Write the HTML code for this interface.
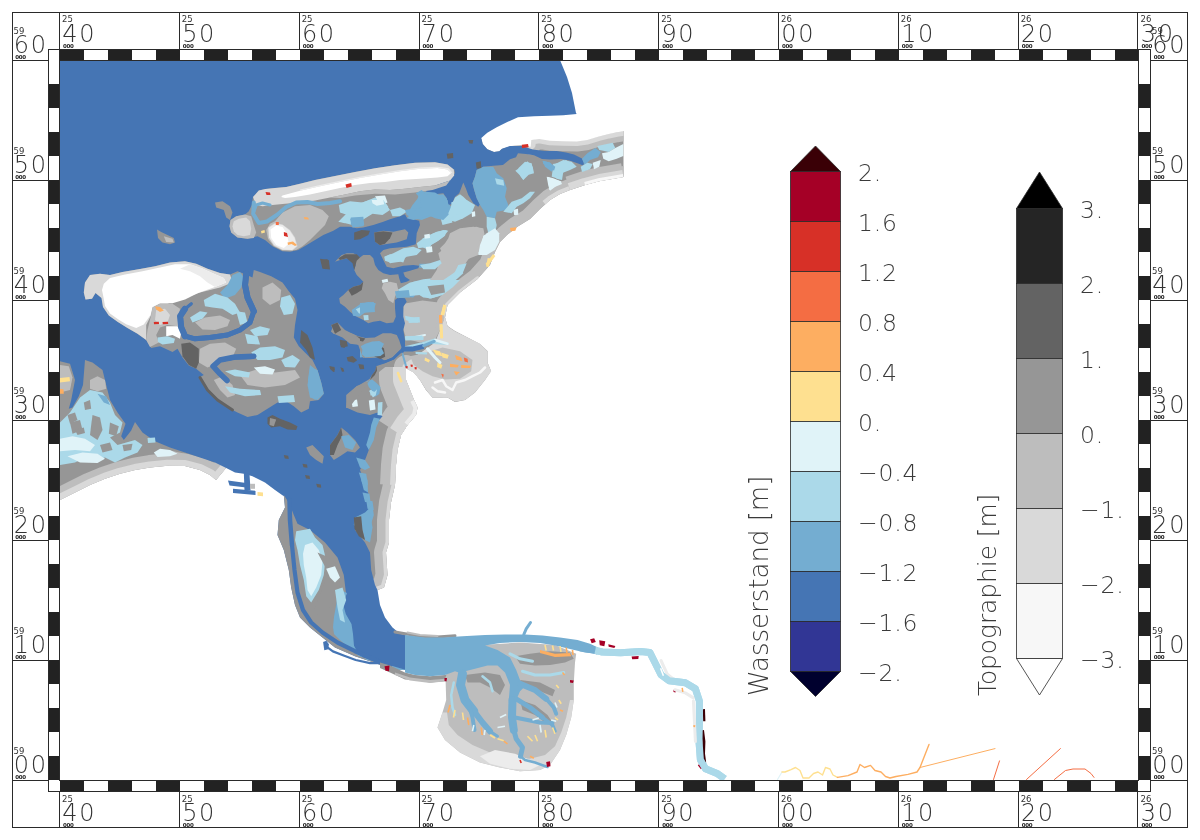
<!DOCTYPE html>
<html lang="de"><head><meta charset="utf-8"><title>Wasserstand / Topographie</title>
<style>
html,body{margin:0;padding:0;background:#fff;}
body{width:1200px;height:840px;overflow:hidden;}
svg{display:block;}
text{font-family:"DejaVu Sans Light","DejaVu Sans","Liberation Sans",sans-serif;font-weight:200;fill:#2a2a2a;}
.bg{font-size:24px;letter-spacing:1.6px;fill:#333;}
.sm{font-family:"DejaVu Sans","Liberation Sans",sans-serif;font-size:8.5px;font-weight:400;fill:#333;}
.ty{font-family:"DejaVu Sans","Liberation Sans",sans-serif;font-size:5.5px;font-weight:700;fill:#222;letter-spacing:-0.3px;}
.cb{font-size:23.5px;fill:#3a3a3a;letter-spacing:0.8px;}
.ttl{font-size:26px;fill:#3a3a3a;}
</style></head>
<body>
<svg width="1200" height="840" viewBox="0 0 1200 840">
<rect width="1200" height="840" fill="#fff"/>
<g id="frame" shape-rendering="crispEdges">
<rect x="12.5" y="12.5" width="1175" height="815" fill="#fff" stroke="#2a2a2a" stroke-width="1"/>
<rect x="48.5" y="49.5" width="1102.00" height="742" fill="#fff" stroke="#2a2a2a" stroke-width="1"/>
<rect x="59.5" y="49" width="24" height="11" fill="#222222"/>
<rect x="59.5" y="780" width="24" height="12" fill="#222222"/>
<rect x="107.5" y="49" width="24" height="11" fill="#222222"/>
<rect x="107.5" y="780" width="24" height="12" fill="#222222"/>
<rect x="155.5" y="49" width="24" height="11" fill="#222222"/>
<rect x="155.5" y="780" width="24" height="12" fill="#222222"/>
<rect x="203.5" y="49" width="24" height="11" fill="#222222"/>
<rect x="203.5" y="780" width="24" height="12" fill="#222222"/>
<rect x="251.5" y="49" width="24" height="11" fill="#222222"/>
<rect x="251.5" y="780" width="24" height="12" fill="#222222"/>
<rect x="299.5" y="49" width="24" height="11" fill="#222222"/>
<rect x="299.5" y="780" width="24" height="12" fill="#222222"/>
<rect x="347.5" y="49" width="24" height="11" fill="#222222"/>
<rect x="347.5" y="780" width="24" height="12" fill="#222222"/>
<rect x="395.5" y="49" width="24" height="11" fill="#222222"/>
<rect x="395.5" y="780" width="24" height="12" fill="#222222"/>
<rect x="442.5" y="49" width="24" height="11" fill="#222222"/>
<rect x="442.5" y="780" width="24" height="12" fill="#222222"/>
<rect x="490.5" y="49" width="24" height="11" fill="#222222"/>
<rect x="490.5" y="780" width="24" height="12" fill="#222222"/>
<rect x="538.5" y="49" width="24" height="11" fill="#222222"/>
<rect x="538.5" y="780" width="24" height="12" fill="#222222"/>
<rect x="586.5" y="49" width="24" height="11" fill="#222222"/>
<rect x="586.5" y="780" width="24" height="12" fill="#222222"/>
<rect x="634.5" y="49" width="24" height="11" fill="#222222"/>
<rect x="634.5" y="780" width="24" height="12" fill="#222222"/>
<rect x="682.5" y="49" width="24" height="11" fill="#222222"/>
<rect x="682.5" y="780" width="24" height="12" fill="#222222"/>
<rect x="730.5" y="49" width="24" height="11" fill="#222222"/>
<rect x="730.5" y="780" width="24" height="12" fill="#222222"/>
<rect x="778.5" y="49" width="24" height="11" fill="#222222"/>
<rect x="778.5" y="780" width="24" height="12" fill="#222222"/>
<rect x="826.5" y="49" width="24" height="11" fill="#222222"/>
<rect x="826.5" y="780" width="24" height="12" fill="#222222"/>
<rect x="874.5" y="49" width="24" height="11" fill="#222222"/>
<rect x="874.5" y="780" width="24" height="12" fill="#222222"/>
<rect x="922.5" y="49" width="24" height="11" fill="#222222"/>
<rect x="922.5" y="780" width="24" height="12" fill="#222222"/>
<rect x="970.5" y="49" width="24" height="11" fill="#222222"/>
<rect x="970.5" y="780" width="24" height="12" fill="#222222"/>
<rect x="1018.5" y="49" width="24" height="11" fill="#222222"/>
<rect x="1018.5" y="780" width="24" height="12" fill="#222222"/>
<rect x="1066.5" y="49" width="24" height="11" fill="#222222"/>
<rect x="1066.5" y="780" width="24" height="12" fill="#222222"/>
<rect x="1114.5" y="49" width="23" height="11" fill="#222222"/>
<rect x="1114.5" y="780" width="23" height="12" fill="#222222"/>
<rect x="48" y="84" width="12" height="24" fill="#222222"/>
<rect x="1138.50" y="84" width="12" height="24" fill="#222222"/>
<rect x="48" y="132" width="12" height="24" fill="#222222"/>
<rect x="1138.50" y="132" width="12" height="24" fill="#222222"/>
<rect x="48" y="180" width="12" height="24" fill="#222222"/>
<rect x="1138.50" y="180" width="12" height="24" fill="#222222"/>
<rect x="48" y="228" width="12" height="24" fill="#222222"/>
<rect x="1138.50" y="228" width="12" height="24" fill="#222222"/>
<rect x="48" y="276" width="12" height="24" fill="#222222"/>
<rect x="1138.50" y="276" width="12" height="24" fill="#222222"/>
<rect x="48" y="324" width="12" height="24" fill="#222222"/>
<rect x="1138.50" y="324" width="12" height="24" fill="#222222"/>
<rect x="48" y="372" width="12" height="24" fill="#222222"/>
<rect x="1138.50" y="372" width="12" height="24" fill="#222222"/>
<rect x="48" y="420" width="12" height="24" fill="#222222"/>
<rect x="1138.50" y="420" width="12" height="24" fill="#222222"/>
<rect x="48" y="468" width="12" height="24" fill="#222222"/>
<rect x="1138.50" y="468" width="12" height="24" fill="#222222"/>
<rect x="48" y="516" width="12" height="24" fill="#222222"/>
<rect x="1138.50" y="516" width="12" height="24" fill="#222222"/>
<rect x="48" y="564" width="12" height="24" fill="#222222"/>
<rect x="1138.50" y="564" width="12" height="24" fill="#222222"/>
<rect x="48" y="612" width="12" height="24" fill="#222222"/>
<rect x="1138.50" y="612" width="12" height="24" fill="#222222"/>
<rect x="48" y="660" width="12" height="24" fill="#222222"/>
<rect x="1138.50" y="660" width="12" height="24" fill="#222222"/>
<rect x="48" y="708" width="12" height="24" fill="#222222"/>
<rect x="1138.50" y="708" width="12" height="24" fill="#222222"/>
<rect x="48" y="756" width="12" height="24" fill="#222222"/>
<rect x="1138.50" y="756" width="12" height="24" fill="#222222"/>
<path d="M59.5 49.5V780.5M1138.50 49.5V780.5M1150.50 49.5V791.5M48.5 49.5V791.5M59.5 60.5H1138.50M59.5 780.5H1138.50M48.5 791.5H1150.50M48.5 49.5H1150.50" stroke="#2a2a2a" stroke-width="1" fill="none"/>
<rect x="60" y="61" width="1078.00" height="719" fill="#fff"/>
<path d="M59.5 12.5V49.5M59.5 791.5V827.5M179.5 12.5V49.5M179.5 791.5V827.5M299.5 12.5V49.5M299.5 791.5V827.5M419.5 12.5V49.5M419.5 791.5V827.5M538.5 12.5V49.5M538.5 791.5V827.5M658.5 12.5V49.5M658.5 791.5V827.5M778.5 12.5V49.5M778.5 791.5V827.5M898.5 12.5V49.5M898.5 791.5V827.5M1018.5 12.5V49.5M1018.5 791.5V827.5M1137.5 12.5V49.5M1137.5 791.5V827.5M12.5 60.5H48.5M1150.50 60.5H1187.5M12.5 180.5H48.5M1150.50 180.5H1187.5M12.5 300.5H48.5M1150.50 300.5H1187.5M12.5 420.5H48.5M1150.50 420.5H1187.5M12.5 540.5H48.5M1150.50 540.5H1187.5M12.5 660.5H48.5M1150.50 660.5H1187.5M12.5 780.5H48.5M1150.50 780.5H1187.5" stroke="#2a2a2a" stroke-width="1" fill="none"/>
</g>
<g id="map" clip-path="url(#mc)">
<clipPath id="mc"><rect x="60" y="61" width="1079" height="719"/></clipPath>
<defs><clipPath id="c0"><polygon points="222,190 300,150 455,120 497,150 531,140 540,138 562,141 585,140 600,136 612,133 623.5,131 623.5,177 612,179 600,181 585,185 570,190 560,194 550,200 540,209 530,219 517,227 507,235 500,242 495,252 490,265 477.5,279 460,292.5 447.5,305 445,317.5 447.5,326 455,331 467.5,337.5 480,344 487.5,351 487.5,362.5 491,371 485,380 475,392.5 465,400 455,402 447.5,397.5 432.5,397.5 426,390 420,380 414,372.5 407.5,369 406,367 406,380 410,390 414,400 417.5,407.5 416,415 407.5,425 401,435 397.5,450 396,465 395,485 391,502.5 389,520 389,542.5 386,552.5 387.5,575 384,587.5 377.5,590 340,590 300,400 230,260"/></clipPath><clipPath id="c1"><polygon points="60,340 100,340 240,400 226,468 216,480 210,475 200,470 185,466 167.5,465.8 150,467.5 135,470 120,473.8 105,478.8 90,485 75,492.5 60,500"/></clipPath></defs>
<polygon points="222,190 300,150 455,120 497,150 531,140 540,138 562,141 585,140 600,136 612,133 623.5,131 623.5,177 612,179 600,181 585,185 570,190 560,194 550,200 540,209 530,219 517,227 507,235 500,242 495,252 490,265 477.5,279 460,292.5 447.5,305 445,317.5 447.5,326 455,331 467.5,337.5 480,344 487.5,351 487.5,362.5 491,371 485,380 475,392.5 465,400 455,402 447.5,397.5 432.5,397.5 426,390 420,380 414,372.5 407.5,369 406,367 406,380 410,390 414,400 417.5,407.5 416,415 407.5,425 401,435 397.5,450 396,465 395,485 391,502.5 389,520 389,542.5 386,552.5 387.5,575 384,587.5 377.5,590 340,590 300,400 230,260" fill="#969696"/>
<polygon points="60,340 100,340 240,400 226,468 216,480 210,475 200,470 185,466 167.5,465.8 150,467.5 135,470 120,473.8 105,478.8 90,485 75,492.5 60,500" fill="#969696"/>
<polyline points="406,367 406,380 410,390 414,400 417.5,407.5 416,415 407.5,425 401,435 397.5,450 396,465 395,485 391,502.5 389,520 389,542.5 386,552.5 387.5,575 384,587.5 377.5,590" fill="none" stroke="#bdbdbd" stroke-width="24" stroke-linecap="round" stroke-linejoin="round" clip-path="url(#c0)"/>
<polyline points="407.5,425 401,435 397.5,450 396,465 395,485" fill="none" stroke="#bdbdbd" stroke-width="30" stroke-linecap="butt" stroke-linejoin="round" clip-path="url(#c0)"/>
<polyline points="406,367 406,380 410,390 414,400 417.5,407.5 416,415 407.5,425 401,435" fill="none" stroke="#bdbdbd" stroke-width="54" stroke-linecap="butt" stroke-linejoin="round" clip-path="url(#c0)"/>
<polyline points="406,367 406,380 410,390 414,400 417.5,407.5 416,415 407.5,425 401,435 397.5,450 396,465 395,485 391,502.5 389,520 389,542.5 386,552.5 387.5,575 384,587.5 377.5,590" fill="none" stroke="#d9d9d9" stroke-width="7" stroke-linecap="round" stroke-linejoin="round" clip-path="url(#c0)"/>
<polyline points="407.5,425 401,435 397.5,450 396,465 395,485" fill="none" stroke="#d9d9d9" stroke-width="10" stroke-linecap="butt" stroke-linejoin="round" clip-path="url(#c0)"/>
<polyline points="406,367 406,380 410,390 414,400 417.5,407.5 416,415 407.5,425 401,435" fill="none" stroke="#d9d9d9" stroke-width="26" stroke-linecap="butt" stroke-linejoin="round" clip-path="url(#c0)"/>
<polyline points="414,400 417.5,407.5 416,415 407.5,425" fill="none" stroke="#ececec" stroke-width="8" stroke-linecap="butt" stroke-linejoin="round" clip-path="url(#c0)"/>
<polyline points="623.5,177 612,179 600,181 585,185 570,190 560,194 550,200 540,209 530,219 517,227 507,235 500,242 495,252 490,265 477.5,279 460,292.5 447.5,305 445,317.5" fill="none" stroke="#bdbdbd" stroke-width="22" stroke-linecap="round" stroke-linejoin="round" clip-path="url(#c0)"/>
<polyline points="623.5,177 612,179 600,181 585,185 570,190" fill="none" stroke="#bdbdbd" stroke-width="28" stroke-linecap="butt" stroke-linejoin="round" clip-path="url(#c0)"/>
<polyline points="623.5,177 612,179 600,181 585,185 570,190" fill="none" stroke="#d9d9d9" stroke-width="14" stroke-linecap="butt" stroke-linejoin="round" clip-path="url(#c0)"/>
<polyline points="570,190 560,194 550,200 545,204" fill="none" stroke="#d9d9d9" stroke-width="8" stroke-linecap="butt" stroke-linejoin="round" clip-path="url(#c0)"/>
<polyline points="623.5,177 612,179 600,181 585,185" fill="none" stroke="#f7f7f7" stroke-width="6" stroke-linecap="butt" stroke-linejoin="round" clip-path="url(#c0)"/>
<polyline points="477.5,279 460,292.5 447.5,305 445,317.5" fill="none" stroke="#d9d9d9" stroke-width="5" stroke-linecap="round" stroke-linejoin="round" clip-path="url(#c0)"/>
<polygon points="445,317.5 447.5,326.2 455,331.2 467.5,337.5 480,343.8 487.5,351.2 487.5,362.5 491.2,371.2 485,380 475,392.5 465,400 455,401.8 447.5,397.5 432.5,397.5 426.2,390 420,380 413.8,372.5 407.5,368.8 406.2,362.5 417.5,355 435,342.5" fill="#d9d9d9"/>
<polygon points="410,356.2 425,353 442.5,347.5 460,351.2 472.5,360 471.2,371.2 460,378.8 445,379.5 432.5,376.2 422.5,371.2 413.8,365" fill="#bdbdbd"/>
<polyline points="435,382.5 442.5,380 446.2,386.2 452.5,390 456.2,382.5 465,380 472.5,376.2 480,372.5 485,367.5" fill="none" stroke="#f7f7f7" stroke-width="2.5" stroke-linecap="round" stroke-linejoin="round"/>
<polyline points="432.5,387.5 437.5,391.2 445,392.5" fill="none" stroke="#f7f7f7" stroke-width="2.5" stroke-linecap="round" stroke-linejoin="round"/>
<polygon points="403.8,303.8 422.5,300.5 442.5,303 444.5,317.5 440,330 435,340 420,342.5 406.2,338.8 402,325" fill="#bdbdbd"/>
<polyline points="531.1,144.7 531.3,140 539.3,138.9 550,140.7 563.3,141.3 576.7,141.6 587.3,140 598,136.7 608.7,134 616.7,132.3 623.3,131.3" fill="none" stroke="#bdbdbd" stroke-width="20" stroke-linecap="round" stroke-linejoin="round" clip-path="url(#c0)"/>
<polyline points="531.1,144.7 531.3,140 539.3,138.9 550,140.7 563.3,141.3 576.7,141.6 587.3,140 598,136.7 608.7,134 616.7,132.3 623.3,131.3" fill="none" stroke="#d9d9d9" stroke-width="9" stroke-linecap="round" stroke-linejoin="round" clip-path="url(#c0)"/>
<polygon points="167.5,450 185,453.8 200,458 215,463 226.2,468 216.2,480 210,475 200,470 185,466.2 167.5,465.8 160,460" fill="#bdbdbd" clip-path="url(#c1)"/>
<polyline points="226,468 216,480 210,475 200,470 185,466 167.5,465.8 150,467.5 135,470 120,473.8 105,478.8 90,485 75,492.5 60,500" fill="none" stroke="#bdbdbd" stroke-width="25" stroke-linecap="round" stroke-linejoin="round" clip-path="url(#c1)"/>
<polyline points="226,468 216,480 210,475 200,470 185,466 167.5,465.8 150,467.5 135,470 120,473.8 105,478.8 90,485 75,492.5 60,500" fill="none" stroke="#d9d9d9" stroke-width="12" stroke-linecap="round" stroke-linejoin="round" clip-path="url(#c1)"/>
<polygon points="576.7,114 563.3,115.3 550,115.7 534,116.3 518,117.3 507.3,122 496.7,127.3 487.3,132.7 481.3,138 482.7,144 487.3,149.3 494,152 499.3,151.3 502,148.7 510,146 522,145.3 530.7,146.7 531.3,140 539.3,138.9 550,140.7 563.3,141.3 576.7,141.6 587.3,140 598,136.7 608.7,134 616.7,132.3 623.3,131.3 623.3,113.3 576.7,113.3" fill="#ffffff"/>
<polygon points="60,60 560,60 567,77 572,93 576,113 576.7,114 563.3,115.3 550,115.7 534,116.3 518,117.3 507.3,122 496.7,127.3 487.3,132.7 481.3,138 482.7,144 487.3,149.3 494,152 499.3,151.3 502,148.7 510,146 522,146 532.7,149.6 544.7,151.1 556.7,151.1 566,152.4 574,154.4 582,158.4 584,162.7 583.3,165.6 576.7,162.9 568.7,160.3 560.7,158.9 550,159.6 542,158.9 534,155.3 526,154 518,153.3 516,157.3 510,159.3 502.9,164.9 493.3,165.8 483.3,166.7 476.7,170 475,176.7 472.5,183.3 474.2,190 476.7,198.3 480,204.2 478.3,206.7 473.3,203.3 468.3,195 465.8,188.3 463.3,182.5 461.7,186.7 459.2,193.3 455,196.7 451.7,204.2 448.3,205 446.7,198.3 443.3,193.3 435,194.2 425.8,193.3 426.7,190 436.7,185 443.3,181.7 450,177.5 455,173.3 454.2,169.2 453.8,169.5 447.5,164.5 435,162.2 415,162.8 395,165.2 375,168.2 355,172 335,176 315,180 300,183.8 286.2,187 275,188 265.5,189 258.8,190.5 253,197 251.8,205 248.8,211.2 245,214.5 236.2,216.2 230.5,220 229.5,226.2 231.2,232.5 237.5,237.5 247.5,238.8 257.5,236.2 265,240 272.5,246.2 282.5,251.2 290,251.8 298.3,250 306.7,245 315,240 323.3,235 333.3,230.8 340,226.7 350,226.7 356.7,228.3 363.3,227.5 373.3,225 383.3,221.7 390,219.2 398.3,216.7 405,214.2 406.7,217.5 413.3,219.2 419.2,220.8 420,225 416.7,233.3 415.8,244.2 406.7,246.7 398.3,247.5 390,248.3 383.3,250 380,253.3 383.3,260 386.7,266.7 393.3,268.3 403.3,265.8 413.3,265 419.2,265.8 418.3,268.3 410,270.8 403.3,272.5 405,276.7 410,280 406.7,281.7 400.8,283.3 399.2,278.3 398.3,274.2 390,275 383.3,273.3 378.3,270 375,265 373.3,258.3 370,255 363.3,255 360,257.5 356.7,255 353.3,253.3 346.7,253.3 341.7,255 338.3,258.3 335,261.7 340,260 346.7,258.3 353.3,260 355.8,265 354.2,270 356.7,275 360,278.3 363.3,281.7 360,285 353.3,286.7 348.3,290 343.3,295 339.2,298.3 340,303.3 345,306.7 350,311.7 356.7,316.7 363.3,320 368.3,323.3 373.3,321.7 380,320.8 386.7,323.3 393.3,322.5 395.8,316.7 395,308.3 395,300 398.3,297.5 405,298.3 406.7,301.7 403.3,306.7 403.3,316.7 405,323.3 403.3,330 405,340 405,350 402.5,353.8 390,362.5 380,370 370,378.8 355,387.5 346.2,395 346.2,407.5 357.5,412.5 370,415 377.5,412.5 382.5,416.2 375,425 372.5,440 368.8,450 365,460 360,470 365,482.5 368.8,495 370,507.5 365,517.5 357.5,520 355,530 365,542.5 370,552.5 371.2,570 375,585 377.5,590 380,605 385,617.5 392.5,627.5 400,633.8 406.2,635 406.2,670 390,670 377.5,663.8 355,656.2 335,647.5 322.5,637.5 310,627.5 300,617.5 295,605 291.2,587.5 288.8,570 283.8,550 277.5,535 278.8,520 285,507.5 283.8,495 283.8,496.2 275,490 265,482.5 252.5,476.2 243.8,473.8 235,472.5 226.2,468 215,462.5 200,457.5 185,452.5 170,447.5 155,441.2 142.5,432.5 135,422 131.2,430.5 123.8,440 121.2,436.2 125.5,423.8 117.5,412.5 110,400 106.2,385 102.5,370 92.5,362.5 85,360 83,385 78.8,396.2 72.5,407.5 68.8,408.8 71.2,400 75,380 70,363.8 60,361.2" fill="#4575b4"/>
<polygon points="83.8,292.5 85,282.5 90,275 100,273.8 110,275 122.5,272 140,269 155,266.2 170,262.5 185,261.2 196.2,263.8 207.5,268.8 220,273 230,274.5 237.5,271.2 243.8,273.8 252.5,277.5 253.8,270 260,272 271.2,276.2 282.5,282.5 288.8,291.2 295,298.8 297.5,310 295,325 293.8,337.5 298.8,346.2 306.2,353.8 312.5,360 317.5,370 321.2,382.5 323.8,393.8 318.8,400 310,401.2 308.8,408.8 301.2,412.5 293.8,406.2 286.2,401.2 277.5,402.5 267.5,408.8 257.5,415 247.5,417 237.5,412.5 225,406.2 213.8,397.5 205,387.5 198.8,377.5 203.8,375 196.2,368.8 188.8,365.5 182.5,357.5 177.5,348.8 172.5,352 160,346.2 151.2,348 146.2,340 137.5,333.8 127.5,328 117.5,321.8 108.8,315.5 103,307 101.5,298 95.5,293 92,298.8 85.5,299.5" fill="#969696"/>
<polyline points="246.2,273.8 245,285 247.5,297.5 253.8,311.2" fill="none" stroke="#4575b4" stroke-width="6" stroke-linecap="round" stroke-linejoin="round"/>
<polyline points="253.8,311.2 250,322.5 240,330 227.5,335 210,337.5 195,338.8 185,336.2" fill="none" stroke="#4575b4" stroke-width="5" stroke-linecap="round" stroke-linejoin="round"/>
<polyline points="185,336.2 181.2,327.5 180,316.2 185,308.8" fill="none" stroke="#4575b4" stroke-width="6" stroke-linecap="round" stroke-linejoin="round"/>
<polyline points="185,308.8 191.2,303.8" fill="none" stroke="#4575b4" stroke-width="3" stroke-linecap="round" stroke-linejoin="round"/>
<polyline points="252.5,357 235,357.5 220,360 213,366.2 220,373.8 227,380.5" fill="none" stroke="#4575b4" stroke-width="4" stroke-linecap="round" stroke-linejoin="round"/>
<polygon points="157,229.5 161.2,232 167.5,235 173.8,238 175,242.5 170,244.2 162.5,242.5 158,238" fill="#969696"/>
<polygon points="163.8,236.2 172.5,238.8 173.8,242.5 166.2,242" fill="#bdbdbd"/>
<polygon points="215,202.5 222.5,201.2 230,206.2 232.5,212.5 230,220 226.2,217.5 223.8,210 216.2,207.5" fill="#969696"/>
<polygon points="283.8,495 285,507.5 278.8,520 277.5,535 283.8,550 288.8,570 291.2,587.5 295,605 300,617.5 310,627.5 322.5,637.5 335,647.5 355,656.2 377.5,663.8 390,670 377.5,663 360,656.2 352,645 348.8,632.5 344.5,620 342,606.2 346.2,595 343.8,575 337.5,557.5 325,542.5 310,530 297.5,523.8 293.8,515 289.5,503.8" fill="#969696"/>
<polygon points="337,588.5 347,593 343,604 345.8,614 351.5,624 353,634 354,645.8 358.5,654 367,660 378.8,662 406.2,670 390,670 378.5,663 370,660 358.5,655.8 350,648.5 341,641 334,634 333,627 334,617 336.5,603" fill="#74add1"/>
<polygon points="296.2,531.2 310,528.8 315,537.5 322.5,545 325.5,557.5 323.8,575 318.8,590 311.2,602.5 306.2,596.2 303.8,580 300,565 297.5,550 295,540" fill="#abd9e9"/>
<polygon points="305,545 312.5,542.5 318.8,550 322.5,561.2 321.2,575 316.2,587.5 311.2,596.2 307.5,590 306.2,577.5 303.8,565 303,553.8" fill="#e0f3f8"/>
<polygon points="317.5,552.5 326.2,556.2 335,562.5 338.8,575 340,587.5 335,600 327.5,610 320,617.5 313.8,610 320,595 325.5,580 325.5,567.5" fill="#969696"/>
<polygon points="326.2,568.8 335,566.2 340,577.5 335,582.5 330,577.5" fill="#e0f3f8"/>
<polygon points="335,590 342.5,587.5 346.2,600 342.5,610 345,622.5 340,620 337.5,607.5" fill="#abd9e9"/>
<polyline points="289.5,500 290,520 292,545" fill="none" stroke="#4575b4" stroke-width="4.5" stroke-linecap="round" stroke-linejoin="round"/>
<polyline points="292,545 294.5,570 297.5,592.5 303,610 311.2,622.5 322.5,632.5 337.5,642.5 355,651.2 372.5,658.8 390,666.2" fill="none" stroke="#4575b4" stroke-width="4.2" stroke-linecap="round" stroke-linejoin="round"/>
<polygon points="323.1,642.1 326.4,640.7 328.9,644.3 328.3,649.3 324.3,650.3" fill="#4575b4"/>
<polyline points="327.1,647.1 332.9,651.4 344.3,655.7 355.7,660 370,663.1 378.6,663.1" fill="none" stroke="#4575b4" stroke-width="2.2" stroke-linecap="round" stroke-linejoin="round"/>
<polygon points="380,662.5 390,665.5 405,672.5 415,675 430,676.2 445,675 455,671.2 460,673 455,680 445,681.2 430,682.5 415,680 405,679.5 390,672.5 380,668" fill="#969696"/>
<polygon points="395,672.5 410,677.5 430,680 445,678.8 445.5,681.2 430,683 410,680.5 395,675" fill="#bdbdbd"/>
<polyline points="395,632 405,633.8 420,636.2 437.5,637 455,635.8" fill="none" stroke="#969696" stroke-width="3" stroke-linecap="round" stroke-linejoin="round"/>
<polyline points="407.5,632.5 420,635 437.5,636" fill="none" stroke="#bdbdbd" stroke-width="2" stroke-linecap="round" stroke-linejoin="round"/>
<polygon points="445.5,677.5 446.2,700 442.5,712.5 437.5,727.5 445,740 460,752.5 480,762.5 500,767.5 520,771.2 540,770 550,765 560,750 566.2,735 571.2,717.5 573.8,700 573.8,682.5 575,662.5 576.2,653.8 555,645 520,642.5 480,645 455,650" fill="#bdbdbd"/>
<polygon points="442.5,712.5 437.5,727.5 445,740 460,752.5 480,762.5 500,767.5 520,771.2 540,770 550,765 560,750 566.2,735 571.2,717.5 573.8,700 570,700 566.2,717.5 561.2,732.5 555,746.2 545,755 530,758.8 510,757.5 490,752.5 472.5,745 457.5,735 448.8,725 447,712.5" fill="#d9d9d9"/>
<polygon points="480,756.2 495,750 515,753.8 530,760 540,765 530,770 510,768.8 490,763.8" fill="#ececec"/>
<polygon points="465,675 485,672.5 500,675 505,685 500,695 490,687.5 480,682.5 467.5,682.5" fill="#969696"/>
<polygon points="515,656.2 530,653.8 550,651.2 570,652.5 573.8,658.8 565,662.5 550,665 535,665.5 520,663.8" fill="#969696"/>
<polygon points="520,680 540,682.5 555,690 552.5,696.2 540,691.2 525,687.5" fill="#969696"/>
<polygon points="520,700 535,705 547.5,715 552.5,722.5 545,722.5 535,715 522.5,710" fill="#969696"/>
<polygon points="405,635 425,637.5 442.5,637.5 462.5,636.2 485,635 505,634.5 525,634.5 542.5,635.5 560,637.5 577.5,640 590,643.8 598,647.5 598,654 585,652.5 570,649 555,645.5 540,643 520,642 500,643 485,645.5 497.5,650 510,657.5 516.2,670 520,680 523.8,687.5 520,691.2 516.2,700 515,717.5 510,717.5 508.8,700 510,685 505,672.5 497.5,665.5 487.5,665.5 475,668.8 465,671.2 460,673 455,671.2 445,675 430,676.2 415,675 405,672.5" fill="#74add1"/>
<polyline points="523.8,634.5 526.2,628.8 530.5,622.5" fill="none" stroke="#74add1" stroke-width="3" stroke-linecap="round" stroke-linejoin="round"/>
<polyline points="462.5,673.8 460.5,685 465,700 473.8,711.2" fill="none" stroke="#74add1" stroke-width="9" stroke-linecap="round" stroke-linejoin="round"/>
<polyline points="473.8,711.2 482.5,722.5 490,731.2" fill="none" stroke="#74add1" stroke-width="6" stroke-linecap="round" stroke-linejoin="round"/>
<polyline points="490,731.2 497.5,736.2" fill="none" stroke="#74add1" stroke-width="3" stroke-linecap="round" stroke-linejoin="round"/>
<polyline points="467.5,700 472.5,717.5 474.5,730" fill="none" stroke="#74add1" stroke-width="4" stroke-linecap="round" stroke-linejoin="round"/>
<polyline points="512.5,700 512,717.5 513.8,730" fill="none" stroke="#74add1" stroke-width="8" stroke-linecap="round" stroke-linejoin="round"/>
<polyline points="513.8,730 516.2,738.8 522.5,747.5 520.5,756.2" fill="none" stroke="#74add1" stroke-width="5" stroke-linecap="round" stroke-linejoin="round"/>
<polyline points="520.5,756.2 525,760 535,762.5 547.5,767" fill="none" stroke="#74add1" stroke-width="2.5" stroke-linecap="round" stroke-linejoin="round"/>
<polyline points="520,683.8 535,690 546.2,698.8" fill="none" stroke="#74add1" stroke-width="6" stroke-linecap="round" stroke-linejoin="round"/>
<polyline points="546.2,698.8 553.8,707.5 556.2,713.8" fill="none" stroke="#74add1" stroke-width="4" stroke-linecap="round" stroke-linejoin="round"/>
<polyline points="516.2,698.8 530,707.5 542.5,717.5" fill="none" stroke="#74add1" stroke-width="5" stroke-linecap="round" stroke-linejoin="round"/>
<polyline points="542.5,717.5 552.5,725 555,731.2" fill="none" stroke="#74add1" stroke-width="3.5" stroke-linecap="round" stroke-linejoin="round"/>
<polyline points="515,717.5 527.5,720 540,722.5 552.5,723" fill="none" stroke="#74add1" stroke-width="4" stroke-linecap="round" stroke-linejoin="round"/>
<polyline points="510,653.8 520,658.8 532.5,661.2" fill="none" stroke="#abd9e9" stroke-width="3" stroke-linecap="round" stroke-linejoin="round"/>
<polyline points="522.5,671.2 535,675 550,675 563.8,672.5" fill="none" stroke="#abd9e9" stroke-width="3" stroke-linecap="round" stroke-linejoin="round"/>
<polyline points="482.5,676.2 490,682.5 492.5,691.2" fill="none" stroke="#abd9e9" stroke-width="2.5" stroke-linecap="round" stroke-linejoin="round"/>
<polyline points="453.8,682.5 451.2,695 452.5,707.5 455,715" fill="none" stroke="#abd9e9" stroke-width="2.5" stroke-linecap="round" stroke-linejoin="round"/>
<polyline points="595.2,650.4 602.3,652 620.5,652.8 640.7,651.6 649.8,652.4 654.9,662.5 661,674.7 669.1,680.7 685.3,682.8 695.4,688.8 699.4,701 699.4,721.2 699,741.5 700.4,759.7 705.5,768.8 717.7,773.8 724.7,778.9" fill="none" stroke="#abd9e9" stroke-width="7" stroke-linecap="butt" stroke-linejoin="round"/>
<polyline points="580,648.3 592.1,650.4 597.8,651.6" fill="none" stroke="#74add1" stroke-width="6" stroke-linecap="butt" stroke-linejoin="round"/>
<polyline points="717.7,773.8 724.7,778.9" fill="none" stroke="#e0f3f8" stroke-width="6" stroke-linecap="butt" stroke-linejoin="round"/>
<polygon points="453.8,169.5 447.5,164.5 435,162.2 415,162.8 395,165.2 375,168.2 355,172 335,176 315,180 300,183.8 286.2,187 275,188 265.5,189 258.8,190.5 253,197 256.2,205 262.5,206.2 272.5,205 285,203.8 300,202.5 315,200.5 330,197.5 345,194.5 360,191.2 375,189.5 390,190 405,188.8 420,187 435,185.5 450,180.5 454.2,175.5" fill="#d9d9d9"/>
<polygon points="450,180.5 435,185.5 420,187 405,188.8 390,190 375,189.5 360,191.2 345,194.5 330,197.5 340,198 355,195.5 375,193.8 395,194.5 415,192.5 432.5,190 446.2,185.5" fill="#bdbdbd"/>
<polygon points="282.5,195.5 300,190.8 320,186.2 340,182 360,178 380,174.5 400,171.2 420,168.8 437.5,168 447.5,169.5 451.2,173 447.5,176.2 437.5,177.5 420,178.8 400,180 385,182 370,183 355,185 340,188 325,191.2 310,194.5 295,197 285,198 281.2,197" fill="#ffffff"/>
<polygon points="300,189.5 320,185 340,180.8 360,176.8 380,173.2 400,170 420,167.5 437.5,166.8 448.8,168.2 452.5,173 451.2,173 447.5,169.5 437.5,168 420,168.8 400,171.2 380,174.5 360,178 340,182 320,186.2 300,190.8" fill="#ececec"/>
<polygon points="229.5,226.2 230.5,220 236.2,216.2 245,214.5 251.2,216.2 253.8,225 256.2,232.5 253.8,238 247.5,238.8 237.5,237.5 231.2,232.5" fill="#bdbdbd"/>
<polygon points="232.5,226.2 233.8,221.2 238.8,218.8 246.2,217.5 250,221.2 251.2,228.8 250,235 243.8,236.2 237.5,235 233.8,231.2" fill="#d9d9d9"/>
<polygon points="282.5,212.5 295,206.2 310,205 322.5,210 328.8,216.2 325,225 317.5,232.5 310,240 302.5,246.2 296.2,250 282.5,250.5 273.8,246.2 268,238.8 266.2,230 270,223.8 275,221.2" fill="#bdbdbd"/>
<polygon points="268,227.5 275,223 282.5,224.5 290,230 295,237.5 297.5,246.2 292.5,250.5 282.5,250 273.8,245.5 268.8,237.5" fill="#d9d9d9"/>
<polygon points="268.8,228 275,223.8 282.5,225 289.5,230.5 294.5,238 296.5,246.2 292,250 282.5,249.5 274.2,245 269.2,237.5" fill="#ececec"/>
<polygon points="270.5,229.5 276.2,225.5 282.5,227 287,233.8 288.8,243.8 283.8,248 276.2,245 271.2,238" fill="#ffffff"/>
<polyline points="253.8,202.5 253.2,213.8 258.8,223 267,221.5 277.5,214.5 286.2,207 296.2,202.5 307.5,202 317.5,204 330,203 340,201.2" fill="none" stroke="#74add1" stroke-width="4" stroke-linecap="round" stroke-linejoin="round"/>
<polyline points="253.2,213.8 256.2,205 262.5,203 270,205" fill="none" stroke="#74add1" stroke-width="3" stroke-linecap="round" stroke-linejoin="round"/>
<polygon points="338.8,205 350,201.2 362.5,202.5 375,197.5 385,202.5 390,210 382.5,215 372.5,213.8 362.5,220 352.5,225 342.5,222.5 347.5,215 340,212.5" fill="#abd9e9"/>
<polygon points="350,218.8 362.5,217.5 363.8,226.2 352.5,227.5" fill="#74add1"/>
<polygon points="375,196.2 385,195.5 387.5,202.5 380,205" fill="#e0f3f8"/>
<polygon points="390,210 400,207.5 407.5,211.2 400,216.2 392.5,216.2" fill="#abd9e9"/>
<polygon points="420,191.2 435,192.5 447.5,200 450,212.5 440,215 430,210 422.5,212.5 412.5,217.5 407.5,213.8 412.5,205 417.5,198.8" fill="#74add1"/>
<polygon points="451.2,202.5 460,198.8 470,205 468.8,213.8 460,217.5 452.5,215" fill="#abd9e9"/>
<polygon points="440,216.2 450,215 452.5,222.5 442.5,225" fill="#abd9e9"/>
<polygon points="374.2,232.5 383.3,230.8 393.3,231.7 405,229.2 408.3,232.5 406.7,239.2 396.7,242.5 388.3,243.7 380,245.3 375,241.7" fill="#969696"/>
<polygon points="374.2,232.5 383.3,231.3 392.5,232.5 390,238.3 385,243.7 380,245.3 375,241.7" fill="#636363"/>
<polygon points="383.3,283.3 390,281.7 396.7,283.3 398.3,290 395,296.7 393.3,303.3 388.3,300 385,293.3 381.7,288.3" fill="#bdbdbd"/>
<polygon points="381.7,280 387.5,278.7 388.3,281.7 382.5,283" fill="#e0f3f8"/>
<polygon points="384.2,256.7 390,254.2 398.3,255.8 405,258.3 403.3,262.5 396.7,260.8 390,262.5 385,260.8" fill="#abd9e9"/>
<polygon points="418.3,244.2 423.3,238.3 430,235 436.7,231.7 446.7,230 445,235.8 438.3,240.8 431.7,244.2 428.3,250 423.3,247.5" fill="#abd9e9"/>
<polygon points="426.3,248 431.3,247 432,251.3 427.5,252" fill="#e0f3f8"/>
<polyline points="419.2,265.8 430,265.8" fill="none" stroke="#74add1" stroke-width="4" stroke-linecap="butt" stroke-linejoin="round"/>
<polygon points="405,286.7 413.3,281.7 423.3,279.2 433.3,278.3 443.3,275.8 453.3,271.7 461.7,268.3 463.3,273.3 456.7,279.2 450,283.3 445,290 440,295.8 431.7,298.3 423.3,297.5 416.7,293.3 410,290.8 405,290.8" fill="#abd9e9"/>
<polygon points="428.3,286.7 436.7,283.3 446.7,284.2 445,290 438.3,295 431.7,295.8 428.3,291.7" fill="#969696"/>
<polygon points="396.7,293.3 403.3,289.2 410,290.8 416.7,293.3 413.3,297.5 405,296.7 398.3,298.3" fill="#74add1"/>
<polygon points="351.7,310 360,304.2 368.3,302 375.8,303.3 374.2,309.2 365.8,312 359.2,316.7 353,315.8" fill="#74add1"/>
<polygon points="355.8,309.2 363.3,305.8 371.7,304.2 373.3,307.5 365,310 359.2,313.7" fill="#abd9e9"/>
<polygon points="363.3,315.3 368.3,315 368.7,320 364.2,320.3" fill="#abd9e9"/>
<polygon points="450,233.3 460,228.3 473.3,226.7 483.3,228.3 485,236.7 481.7,246.7 478.3,255 470,258.3 463.3,261.7 456.7,263.3 450,260 443.3,255 440,248.3 445,243.3 448.3,238.3" fill="#bdbdbd"/>
<polygon points="410,303.3 420,301.7 433.3,304.2 438.3,310 437.5,320 435,330 433.3,340 406.7,340 405,326.7 406.7,316.7 405,308.3" fill="#bdbdbd"/>
<polygon points="483.3,235.8 490,232.5 490,250 481.7,255 478.3,253.3 481.7,245" fill="#e0f3f8"/>
<polyline points="440.8,315 440.8,323.3" fill="none" stroke="#fdae61" stroke-width="3" stroke-linecap="butt" stroke-linejoin="round"/>
<polyline points="444.7,305 442.7,315" fill="none" stroke="#fee090" stroke-width="3" stroke-linecap="butt" stroke-linejoin="round"/>
<polyline points="440.8,324.2 441.7,338.3" fill="none" stroke="#fee090" stroke-width="3" stroke-linecap="butt" stroke-linejoin="round"/>
<polyline points="489.2,258.3 487.5,266.7" fill="none" stroke="#fee090" stroke-width="3" stroke-linecap="butt" stroke-linejoin="round"/>
<polygon points="338.3,221.7 345,215 351.7,208.3 360,203.3 370,200 383.3,200 388.3,206.7 383.3,211.7 376.7,210 370,215 363.3,213.3 356.7,218.3 350,217.5 345,223.3" fill="#abd9e9"/>
<polygon points="371.7,200 383.3,200 384.2,204.2 376.7,205.8 372.5,203.3" fill="#e0f3f8"/>
<polygon points="350.8,217.5 363.3,216.7 364.2,225 356.7,226.7 350.8,225" fill="#74add1"/>
<polygon points="405,210 416.7,208.3 430,206.7 443.3,203.3 450,205 448.3,211.7 440,215 430,216.7 421.7,220 413.3,218.3 406.7,215" fill="#74add1"/>
<polygon points="450,206.7 456.7,201.7 466.7,200 475,205 471.7,213.3 463.3,218.3 455,221.7 448.3,220 445,215" fill="#abd9e9"/>
<polygon points="354.2,232.5 361.7,230 370,230.8 368.3,235 360,239.2 354.2,240" fill="#636363"/>
<polygon points="338.3,258.3 345,254.2 356.7,254.2 360,257.5 356.7,260.8 354.2,270 352.5,263.3 346.7,258.3 340,260" fill="#636363"/>
<polygon points="348.3,290 353.3,286.7 360,285 363.3,281.7 361.7,290 356.7,293.3 351.7,295.8" fill="#636363"/>
<polygon points="321.7,260 327.5,259.2 328.7,265.8 325.8,269.2 322.5,265.8" fill="#636363"/>
<polygon points="476.7,170 483.3,166.7 493.3,166.7 496.7,173.3 503.3,178.3 506.7,188.3 505,196.7 508.3,205 506.7,210 496.7,211.7 495,218.3 486.7,216.7 483.3,210 480,205 476.7,198.3 474.2,190 472.5,183.3 475,176.7" fill="#74add1"/>
<polygon points="415.8,193.3 421.7,190 425.8,194.2 435,195 443.3,194.2 446.7,198.3 448.3,205 451.7,206.7 450,213.3 443.3,220 435,218.3 428.3,215 421.7,218.3 413.3,220 406.7,218.3 413.3,211.7 421.7,206.7 420,198.3" fill="#74add1"/>
<polygon points="451.7,205 455,197.5 460,194.2 463.3,196.7 466.7,200 471.7,205 470,210 463.3,211.7 456.7,215 450,218.3 448.3,213.3" fill="#abd9e9"/>
<polygon points="486.7,216.7 495,218.3 496.7,225 495,233.3 488.3,233.3 486.7,226.7" fill="#abd9e9"/>
<polygon points="486.7,233.3 495,228.3 499.2,233.3 499.2,241.7 495,250 486.7,255 478.3,255 480,245 483.3,236.7" fill="#e0f3f8"/>
<polyline points="494.2,255 486.7,265" fill="none" stroke="#fee090" stroke-width="3" stroke-linecap="butt" stroke-linejoin="round"/>
<polygon points="471.7,212 475,211.3 475.3,216.3 472,217" fill="#e0f3f8"/>
<polygon points="513.3,209.7 518,208.7 518.3,214.7 514.2,215.3" fill="#e0f3f8"/>
<polygon points="547.5,176.7 553.3,178.3 561.7,181.7 555,186.7 549.2,190" fill="#e0f3f8"/>
<polygon points="503.3,211.7 511.7,201.7 521.7,198.3 530,191.7 535,191.7 530,198.3 523.3,203.3 516.7,206.7 511.7,213.3" fill="#abd9e9"/>
<polygon points="518.3,168.3 525,161.7 531.7,163.3 533.3,171.7 526.7,175 523.3,180 520,175.8" fill="#abd9e9"/>
<polygon points="495,178.3 503.3,180 504.2,185.8 496.7,184.2" fill="#abd9e9"/>
<polygon points="553.3,165 563.3,160 571.7,161.7 576.7,166.7 570,170 561.7,173.3 556.7,178.3 551.7,176.7" fill="#abd9e9"/>
<polygon points="542.5,160.8 550,162.5 554.2,167.5 551.7,171.7 545,166.7" fill="#74add1"/>
<polygon points="451.7,233.3 463.3,228.3 476.7,226.7 483.3,230 480,240 476.7,250 470,256.7 463.3,266.7 453.3,273.3 443.3,280 430,280 436.7,270 440,260 438.3,253.3 446.7,246.7 450,240" fill="#bdbdbd"/>
<polygon points="416.7,243.3 423.3,238.3 433.3,233.3 443.3,230 448.3,230.8 443.3,236.7 436.7,241.7 428.3,246.7 418.3,248.3" fill="#abd9e9"/>
<polygon points="425.8,247 432,246.3 432.5,252 426.7,252.7" fill="#e0f3f8"/>
<polygon points="424.2,234.7 429.7,233.7 430,238 424.7,238.7" fill="#e0f3f8"/>
<polygon points="385,256.7 393.3,253.3 403.3,248.3 413.3,246.7 421.7,250 416.7,255 406.7,256.7 400,261.7 390,263.3" fill="#abd9e9"/>
<polygon points="420,265 430,263.3 440,260 441.7,263.3 435,269.2 423.3,269.2" fill="#abd9e9"/>
<polygon points="458.3,265 466.7,263.3 463.3,271.7 455,280 450,280 455,271.7" fill="#abd9e9"/>
<polygon points="446.7,153.7 453,153 453.3,158 447.5,158.7" fill="#636363"/>
<polygon points="475.8,162.5 480.8,161.3 481.3,168 476.7,168.7" fill="#636363"/>
<polygon points="468.3,140 473.3,140 472.5,143.7 469.2,143.3" fill="#636363"/>
<polygon points="510,228 516.7,227.3 515.3,230.8 510.8,231.3" fill="#fdae61"/>
<polygon points="521.7,144.7 528,144 528.7,147.3 522,148" fill="#d73027"/>
<polygon points="582,158.7 587.3,153.3 595.3,148 600.7,152 598,157.3 590,160 584.7,165.3" fill="#74add1"/>
<polygon points="597.3,146 603.3,144.7 612.7,142.7 615.3,148 608.7,152 603.3,150.7 599.3,150" fill="#abd9e9"/>
<polygon points="615.3,148 623.3,144 623.3,156 616.7,158.7 608.7,161.3 603.3,158.7 602,153.3 608.7,152" fill="#e0f3f8"/>
<polygon points="580.7,166.7 587.3,162.7 592.7,164 590,169.3 582,172" fill="#abd9e9"/>
<polygon points="592.7,162.7 600.7,160 599.3,166.7 594,169.3" fill="#e0f3f8"/>
<polygon points="546.7,176.7 552.7,178.7 560.7,181.3 562,184 555.3,186.7 550,190.7 548,184" fill="#e0f3f8"/>
<polygon points="552.7,164 560.7,162.7 566,160 571.3,164 568.7,168 563.3,172 562,180 556.7,178.7 552.7,174.7 555.3,169.3" fill="#abd9e9"/>
<polygon points="542.7,160.7 550,162.7 555.3,166.7 554,170.7 548.7,166.7 543.3,164" fill="#74add1"/>
<polygon points="515.3,170.7 523.3,165.3 527.3,161.3 532.7,166.7 534,173.3 528.7,174.7 523.3,180 520.7,176" fill="#abd9e9"/>
<polygon points="267.5,417.5 272.5,415 280,418.8 290,422.5 297.5,426.2 296.2,430 287.5,429.5 280,426.2 271.2,427.5 267.5,423.8" fill="#636363"/>
<polygon points="270,418 276.2,419.5 273.8,426.2 269.5,425" fill="#969696"/>
<polygon points="306.2,447.5 312.5,445 317.5,450 323.8,456.2 322.5,463.8 316.2,460 310,455" fill="#969696"/>
<polygon points="330,445 337.5,435 341.2,427.5 347.5,432.5 355,440 360,447.5 355,452.5 347.5,451.2 340,456.2 333.8,460 330,455" fill="#969696"/>
<polygon points="330,445 337.5,435 341.2,427.5 342.5,435 337.5,445 333.8,455 330,455" fill="#636363"/>
<polygon points="341.2,436.2 348.8,435 356.2,442.5 352.5,450 345,447.5" fill="#74add1"/>
<polygon points="330,366.2 334.5,367 335,370.2 331,369.8" fill="#636363"/>
<polygon points="350,357.5 354.5,358.2 355,361.5 351,361" fill="#636363"/>
<polygon points="302.5,463.8 307,464.5 307.5,467.8 303.5,467.2" fill="#636363"/>
<polygon points="305,475 309.5,475.8 310,479 306,478.5" fill="#636363"/>
<polygon points="316.2,483.8 320.8,484.5 321.2,487.8 317.2,487.2" fill="#636363"/>
<polygon points="283.8,455 288.2,455.8 288.8,459 284.8,458.5" fill="#636363"/>
<polygon points="358.8,365 363.2,365.8 363.8,369 359.8,368.5" fill="#636363"/>
<polygon points="340,343.8 344.5,344.5 345,347.8 341,347.2" fill="#636363"/>
<polygon points="351.2,400.5 357,399.5 358,406.2 352.5,407" fill="#e0f3f8"/>
<polygon points="368.8,400.5 374.5,399.5 375.5,409.5 370,410.5" fill="#e0f3f8"/>
<polygon points="370,390 377.5,388.8 378,395 370.5,395.5" fill="#abd9e9"/>
<polygon points="378,402.5 382.5,402 382,415.5 377.5,415" fill="#abd9e9"/>
<polygon points="373.8,417.5 380,418.8 376.2,427.5 373.8,440 368.8,450 366.2,445 370,432.5 371.2,425" fill="#74add1"/>
<polygon points="356.2,457.5 365,460 370,467.5 365,470 360,467.5" fill="#74add1"/>
<polygon points="362.5,472.5 367.5,480 368,492.5 363.8,490 361.2,480" fill="#74add1"/>
<polygon points="366.2,500 372.5,501.2 373.8,510 367.5,508.8" fill="#74add1"/>
<polygon points="355,517.5 365,512.5 372.5,505 373.8,515 370,527.5 360,530 353.8,525" fill="#74add1"/>
<polygon points="360,347.5 370,343.8 382.5,345 386.2,352.5 377.5,357.5 365,357.5" fill="#74add1"/>
<polyline points="405,350 420,345 435,341.2" fill="none" stroke="#74add1" stroke-width="3" stroke-linecap="round" stroke-linejoin="round"/>
<polyline points="402.5,353.8 406.2,367" fill="none" stroke="#74add1" stroke-width="2" stroke-linecap="round" stroke-linejoin="round"/>
<polyline points="410,338 425,335" fill="none" stroke="#e0f3f8" stroke-width="2" stroke-linecap="round" stroke-linejoin="round"/>
<polyline points="430,342.5 447.5,343.8" fill="none" stroke="#abd9e9" stroke-width="2.5" stroke-linecap="round" stroke-linejoin="round"/>
<polygon points="432.5,349.5 440,351.2 442.5,356.2 436.2,355" fill="#fee090"/>
<polygon points="441.2,352.5 448.8,355 447.5,358.8 442.5,357.5" fill="#fee090"/>
<polygon points="425,357.5 430,360 428.8,362.5 424.5,360.5" fill="#fee090"/>
<polygon points="437.5,362.5 442.5,365 441.2,368.8 437,367" fill="#fee090"/>
<polygon points="455,355 461.2,357.5 462.5,361.2 456.2,359.5" fill="#fdae61"/>
<polygon points="450,363.8 458.8,365 457.5,367.5 450,367" fill="#fdae61"/>
<polygon points="461.2,365 471.2,365.8 470,368 461.2,368" fill="#fdae61"/>
<polygon points="453.8,371.2 460,372 456.2,375.5" fill="#fdae61"/>
<polygon points="463.8,357.5 467.5,358.8 468,362.5 464.5,361.5" fill="#f46d43"/>
<polygon points="441.2,373.8 443.8,374.5 443,378" fill="#f46d43"/>
<polyline points="398,373 401.2,381.2" fill="none" stroke="#fee090" stroke-width="2.5" stroke-linecap="round" stroke-linejoin="round"/>
<polygon points="405.5,366 407.8,366.2 407.5,368.5 405.8,368.2" fill="#d73027"/>
<polygon points="410.5,364.5 412.8,364.8 412.5,367 410.8,366.8" fill="#d73027"/>
<polygon points="414.5,367 416.8,367.2 416.5,369.5 414.8,369.2" fill="#d73027"/>
<polygon points="310,365 316.2,370 317.5,382.5 322.5,392.5 315,400 310,395 308,380" fill="#74add1"/>
<polygon points="397.5,290 410,282.5 425,280 460,280 452.5,287.5 442.5,295 430,298.8 420,295 407.5,296.2" fill="#abd9e9"/>
<polygon points="427.5,286.2 443.8,284.5 445,292.5 431.2,295" fill="#969696"/>
<polygon points="395,291.2 408.8,290 410,297.5 396.2,298" fill="#74add1"/>
<polygon points="360,341.2 372.5,340 383.8,343.8 385,352.5 375,356.2 360,357.5" fill="#74add1"/>
<polygon points="360,303 373.8,302 375,312 360,313" fill="#74add1"/>
<polygon points="407.5,317.5 419.5,317 420,322.5 408.8,323" fill="#abd9e9"/>
<polygon points="405,336.2 422.5,335.5 422.5,340 405.5,340.5" fill="#abd9e9"/>
<polyline points="445,305 442,315" fill="none" stroke="#fee090" stroke-width="3" stroke-linecap="butt" stroke-linejoin="round"/>
<polyline points="440.5,315 440.5,322.5" fill="none" stroke="#fdae61" stroke-width="3" stroke-linecap="butt" stroke-linejoin="round"/>
<polyline points="441.2,325 441.2,336.2" fill="none" stroke="#fee090" stroke-width="2.5" stroke-linecap="butt" stroke-linejoin="round"/>
<polyline points="406.2,347.5 422.5,343.8 435,340" fill="none" stroke="#abd9e9" stroke-width="3" stroke-linecap="round" stroke-linejoin="round"/>
<polyline points="435,340 447.5,343.8" fill="none" stroke="#e0f3f8" stroke-width="2.5" stroke-linecap="round" stroke-linejoin="round"/>
<polyline points="427.5,348.8 435,357.5 440,362.5" fill="none" stroke="#e0f3f8" stroke-width="3" stroke-linecap="round" stroke-linejoin="round"/>
<polygon points="330.9,331.6 332.7,327.5 336.2,326.3 338.5,329.8 344.3,332.2 351.3,333.3 358.3,336.3 365.3,338 374.7,337.4 382.8,333.3 391,333.3 396.8,335.1 399.2,340.3 401.5,347.3 399.2,353.2 394.5,356.7 389.8,359.6 384,360.2 379.3,357.3 370,358.1 363,357.8 360.7,352 358.3,345 352.5,341.5 346.7,338 338.5,333.9 333.8,333.9" fill="#969696"/>
<polygon points="340.3,331 346.7,332.8 352.5,335.1 358.3,336.8 365.3,338.6 363,341.5 357.2,340.6 351.3,338.6 345.5,336.3 340.8,333.9" fill="#636363"/>
<polygon points="370,345 379.3,345 384,348.5 385.2,356.7 380.5,359 374.7,356.7" fill="#636363"/>
<polygon points="360.7,346.2 365.3,343.8 372.3,341.5 379.3,340.9 384,343.8 381.7,348.5 384,353.2 380.5,356.1 372.3,356.7 365.3,357.3 361.8,354.3 362.4,349.7" fill="#74add1"/>
<polyline points="400.9,350.8 393.3,358.4 384,362.3 377,364.6" fill="none" stroke="#4575b4" stroke-width="2.5" stroke-linecap="round" stroke-linejoin="round"/>
<polyline points="402.7,349.1 412,349.1 423.7,346.4" fill="none" stroke="#4575b4" stroke-width="5" stroke-linecap="butt" stroke-linejoin="round"/>
<polyline points="423.7,345.6 434.2,341.3" fill="none" stroke="#74add1" stroke-width="3" stroke-linecap="round" stroke-linejoin="round"/>
<polygon points="339.7,339.8 346.7,340.9 347.8,346.2 343.2,347.6 340.3,344.4" fill="#636363"/>
<polygon points="346.7,357.3 352.5,356.1 357.2,360.2 353.7,362.7 347.8,361.3" fill="#636363"/>
<polygon points="329.2,366 332.1,367.2 335,371.3 333.3,372.1 330.1,368.9" fill="#636363"/>
<polygon points="340.3,367.2 343.2,368.3 344.3,371.6 342,371.8" fill="#636363"/>
<polygon points="358.3,363.9 363.6,364.8 364.2,368.9 360.1,369.3" fill="#636363"/>
<polygon points="405,315.8 410.8,317 419,319.3 417.8,322.8 410.8,321.7 405.6,319.9" fill="#abd9e9"/>
<polygon points="405,336.6 414.3,335.9 423.7,337.1 423.4,340.1 414.3,339.8 405.6,340.1" fill="#abd9e9"/>
<polygon points="415.5,351.8 427.2,352.6 426.9,354.6 415.7,354.1" fill="#abd9e9"/>
<polygon points="366.5,381.2 372.3,379.4 377,383.5 380.5,387 379.3,394 374.7,396.9 372.9,391.7 368.8,387" fill="#74add1"/>
<polygon points="368.8,390.5 374.7,391.7 377,389.3 375.8,395.2 372.9,397.5" fill="#abd9e9"/>
<polygon points="401.5,352.6 393.9,359.6 384.6,363.1 376.4,365.4 375.3,370.7 371.8,375.3 368.3,381.2 363.6,383.7 356.6,386.1 351.9,391.7 347.3,398.7 346.1,408 349,408 370,380 380.5,370.7 390.4,363.1 402.7,354.3" fill="#969696"/>
<polygon points="376.4,365.4 375.3,370.7 371.8,375.3 370,380 374.7,375.3 377,370.7" fill="#636363"/>
<polyline points="400.9,350.8 393.3,358.4 384,362.3 377,364.6" fill="none" stroke="#4575b4" stroke-width="2.5" stroke-linecap="round" stroke-linejoin="round"/>
<polygon points="83.8,292.5 85,282.5 90,275 100,273.8 110,275 122.5,272 140,269 155,266.2 170,262.5 185,261.2 196.2,263.8 207.5,268.8 220,273 230,274.5 232.5,282.5 220,287.5 210,290 200,292.5 190,296.2 177.5,300 167.5,303.8 160,303.8 152.5,307.5 151.2,315 146.2,325 146.2,340 137.5,333.8 127.5,328 117.5,321.8 108.8,315.5 103,307 101.5,298 95.5,293 92,298.8 85.5,299.5" fill="#d9d9d9"/>
<polygon points="103.8,283.8 110,278 125,274.5 142.5,271.2 160,267.5 175,264.2 190,264.2 202.5,268.5 215,274.2 223.8,278 226.2,282.5 215,287 197.5,293.2 185,299.5 172.5,303.2 160,303.2 152.5,307 150.5,315 143.8,324.5 136.2,328 126.2,324.2 118,319.2 110,313.5 105,306 103.5,297.5 102,290" fill="#ffffff"/>
<polygon points="190,264.2 202.5,268.5 215,274.2 223.8,278 226.2,282.5 215,287 207.5,282.5 200,276.2 190,271.2 180,268.8" fill="#ececec"/>
<polygon points="160,303.8 172.5,303.8 180,308.8 178.8,316.2 180,325 177.5,326.2 167.5,325 160,327.5 156.2,335 158.8,342.5 150,347 146.2,340 147.5,330 151.2,315 152.5,307.5" fill="#bdbdbd"/>
<polygon points="156.2,310 165,308.8 170,315 167.5,322.5 160,325 155,320" fill="#d9d9d9"/>
<polygon points="166.2,326.2 177.5,326.2 181.2,332.5 180,338.8 172.5,335 166.2,336.2" fill="#ffffff"/>
<polygon points="157.5,337.5 167.5,336.2 175,338.8 173.8,343 162.5,344.5 158,342" fill="#abd9e9"/>
<polygon points="155,306.2 160,307 163.8,310.5 160,312 156.2,309.5" fill="#fdae61"/>
<polygon points="153.8,322 158.8,321.8 159,324 154,324.2" fill="#d73027"/>
<polygon points="162.5,322 168,321.8 168.2,324 162.8,324.2" fill="#d73027"/>
<polygon points="232.5,275 240,272 243.8,277.5 241.2,287.5 235,295 225,298.8 220,292.5 227.5,285" fill="#74add1"/>
<polygon points="203.8,300 215,293.8 227.5,297.5 235,303.8 240,312.5 232.5,315 222.5,308.8 212.5,307.5 205,306.2" fill="#abd9e9"/>
<polygon points="190,317.5 200,311.2 207.5,312.5 202.5,318.8 192.5,322.5" fill="#abd9e9"/>
<polygon points="195,322.5 205,317.5 220,315.5 230,320 227.5,326.2 215,330 202.5,329.5" fill="#bdbdbd"/>
<polygon points="236.2,311.2 245,312.5 247.5,322.5 240,325" fill="#abd9e9"/>
<polygon points="262.5,287.5 272.5,282.5 281.2,290 280,300 270,305 262.5,298.8" fill="#bdbdbd"/>
<polygon points="281.2,297.5 290,295 295,303.8 292.5,313.8 283.8,315 280,306.2" fill="#abd9e9"/>
<polygon points="250,330 260,326.2 270,328.8 267.5,335 255,336.2" fill="#abd9e9"/>
<polygon points="245,333.8 257.5,336.2 260,344.5 247.5,343.8" fill="#abd9e9"/>
<polygon points="251.2,352.5 260,347.5 275,346.2 285,350 282.5,357.5 270,360 257.5,360" fill="#abd9e9"/>
<polygon points="281.2,360 292.5,355 300,360 295,367.5 285,367" fill="#abd9e9"/>
<polygon points="200,348.8 210,343.8 225,342.5 236.2,348.8 232.5,357.5 220,362.5 207.5,367.5 198.8,362.5" fill="#bdbdbd"/>
<polygon points="181.2,343.8 190,342.5 198.8,348.8 198.8,362.5 196.2,368.8 188.8,365 182.5,356.2" fill="#636363"/>
<polygon points="213.8,380 222.5,376.2 232.5,385 235,395 227.5,397.5 220,390" fill="#bdbdbd"/>
<polygon points="240,375 255,370 275,372.5 295,370 300,377.5 285,385 265,387.5 247.5,385" fill="#bdbdbd"/>
<polygon points="225,386.2 240,388.8 260,390 261.2,395 245,396.2 230,392.5" fill="#abd9e9"/>
<polygon points="253.8,367.5 265,366.2 275,369.5 272.5,374.5 260,373.8" fill="#e0f3f8"/>
<polygon points="225,371.2 235,369.5 250,372.5 248.8,377.5 235,376.2" fill="#abd9e9"/>
<polygon points="310,367.5 317.5,370 321.2,382.5 323.8,393.8 317.5,400 310,397.5 307.5,385" fill="#74add1"/>
<polygon points="277.5,396.2 293.8,395 295,402 278.8,403" fill="#abd9e9"/>
<polyline points="200,377.5 207.5,390 217.5,400 232.5,410" fill="none" stroke="#636363" stroke-width="3" stroke-linecap="round" stroke-linejoin="round"/>
<polygon points="301.2,330 307.5,335 312.5,347.5 315,360 310,357.5 306.2,350 300,342.5" fill="#636363"/>
<polygon points="331.2,325 337.5,322.5 345,330 355,335 360,338.8 360,345 350,343.8 342.5,337.5 333.8,333.8" fill="#969696"/>
<polygon points="331.2,325 337.5,322.5 341.2,330 335,333.8" fill="#636363"/>
<polygon points="320,258.8 328.8,260 330,269.5 322.5,268.8" fill="#636363"/>
<polyline points="246.2,273.8 245,285 247.5,297.5 253.8,311.2" fill="none" stroke="#4575b4" stroke-width="6" stroke-linecap="round" stroke-linejoin="round"/>
<polyline points="253.8,311.2 250,322.5 240,330 227.5,335 210,337.5 195,338.8 185,336.2" fill="none" stroke="#4575b4" stroke-width="5" stroke-linecap="round" stroke-linejoin="round"/>
<polyline points="185,336.2 181.2,327.5 180,316.2 185,308.8" fill="none" stroke="#4575b4" stroke-width="6" stroke-linecap="round" stroke-linejoin="round"/>
<polyline points="185,308.8 191.2,303.8" fill="none" stroke="#4575b4" stroke-width="3" stroke-linecap="round" stroke-linejoin="round"/>
<polyline points="252.5,357 235,357.5 220,360 213,366.2 220,373.8 227,380.5" fill="none" stroke="#4575b4" stroke-width="4" stroke-linecap="round" stroke-linejoin="round"/>
<polygon points="60,422.5 70,412.5 80,397.5 90,390 102.5,392.5 110,402.5 115,415 122.5,422.5 120,432.5 110,437.5 117.5,445 135,440 142.5,445 137.5,452.5 125,457.5 115,462.5 105,457.5 95,460 85,457.5 75,462.5 60,465" fill="#abd9e9" clip-path="url(#c1)"/>
<polygon points="92.5,415 100,417.5 102.5,430 97.5,440 90,435 91.2,425" fill="#969696"/>
<polygon points="70,422.5 80,420 82.5,430 72.5,433.8" fill="#969696"/>
<polygon points="110,422.5 118.8,426.2 116.2,436.2 108.8,433.8" fill="#969696"/>
<polygon points="60,438.8 72.5,436.2 85,438.8 95,445 90,451.2 75,450 60,451.2" fill="#e0f3f8"/>
<polygon points="67.5,456.2 82.5,452.5 97.5,453.8 105,458.8 97.5,463 80,462.5" fill="#e0f3f8"/>
<polygon points="153.8,452.5 160,448.8 170,450 177.5,453.8 170,456.2 157.5,457" fill="#e0f3f8"/>
<polygon points="97.5,393.8 106.2,396.2 110,405 103.8,402.5" fill="#74add1"/>
<polygon points="90,380 97.5,376.2 105,380 106.2,388.8 97.5,391.2 90,388.8" fill="#bdbdbd"/>
<polygon points="60,365 68.8,366.2 72.5,377.5 70,390 60,392.5" fill="#bdbdbd"/>
<polygon points="60,378 69.5,377 70,381.2 60,382.5" fill="#fee090"/>
<polygon points="60,388.8 63.5,389.2 63.8,393.8 60,393.8" fill="#fdae61"/>
<polygon points="147.5,438 155,437.5 155.5,442.5 148,443" fill="#abd9e9"/>
<polygon points="243.8,472 249.5,473.8 250.5,490.5 244.5,490.5" fill="#4575b4"/>
<polygon points="228,480.5 246.2,483 246.2,487.5 229.5,485.5" fill="#4575b4"/>
<polygon points="233,488.8 255.5,490.8 255.5,495 233,493" fill="#4575b4"/>
<polygon points="250,483.8 255,483.8 255,488.8 250,488.8" fill="#bdbdbd"/>
<polygon points="257.5,492 263,492.5 263,496.2 257.5,495.8" fill="#fee090"/>
<polygon points="361.2,517.5 370,512.5 372.5,527.5 370,542.5 365,540 362.5,530" fill="#74add1"/>
<polygon points="358.8,472.5 366.2,473.8 368,485 362.5,483.8" fill="#74add1"/>
<polygon points="362.5,492.5 369.5,493.8 370.5,502.5 365,502" fill="#74add1"/>
<polygon points="353.8,517.5 361.2,516.2 362.5,530 365,540 358.8,536.2 354.5,528.8" fill="#636363"/>
<polyline points="777.5,779.5 782,772" fill="none" stroke="#e0f3f8" stroke-width="1.2" stroke-linecap="round" stroke-linejoin="round"/>
<polyline points="782,772 785,772 791,769.6 795.5,767.5 800,770.5 803,778 809,778 813.5,773.5 818,772 822.5,775 825.5,767.5 830,769 833,775 837.5,777.4" fill="none" stroke="#fee090" stroke-width="1.4" stroke-linecap="round" stroke-linejoin="round"/>
<polyline points="837.5,777.4 848,775.6 857,772 860,764.5 864.5,767.5 870.5,765.4 875,770.5 881,772 885.5,776.5 890,778 896,776.5 908,774.4 917,772 920,767.5 929,744.4" fill="none" stroke="#fdae61" stroke-width="1.4" stroke-linecap="round" stroke-linejoin="round"/>
<polyline points="920,767.5 995,748.6" fill="none" stroke="#fdae61" stroke-width="1" stroke-linecap="round" stroke-linejoin="round"/>
<polyline points="993.5,779.5 999.5,760.9" fill="none" stroke="#f46d43" stroke-width="1" stroke-linecap="round" stroke-linejoin="round"/>
<polyline points="1026.5,779.5 1060.4,748.6" fill="none" stroke="#f46d43" stroke-width="1" stroke-linecap="round" stroke-linejoin="round"/>
<polyline points="1054.4,779.5 1065.5,770.5 1073,769 1085,769 1091,773.5 1094,777.4" fill="none" stroke="#f46d43" stroke-width="1" stroke-linecap="round" stroke-linejoin="round"/>
<polyline points="703.9,709.1 704.3,721.2" fill="none" stroke="#3a0006" stroke-width="2.2" stroke-linecap="butt" stroke-linejoin="round"/>
<polyline points="702.5,730.3 703.9,741.5 703.5,753.6 704.7,762.7" fill="none" stroke="#3a0006" stroke-width="3" stroke-linecap="butt" stroke-linejoin="round"/>
<polyline points="698.4,764.7 701.5,768.8" fill="none" stroke="#a50026" stroke-width="1.5" stroke-linecap="butt" stroke-linejoin="round"/>
<polygon points="590.1,639.2 594.2,638.2 595.8,641.9 591.7,643.3" fill="#a50026"/>
<polygon points="599.2,640.2 605.3,641.3 604.3,646.3 599.8,645.3" fill="#a50026"/>
<polygon points="608.3,644.3 615.4,645.9 614.4,647.9 608.7,646.7" fill="#a50026"/>
<polygon points="631.6,656.4 638.7,656 638.3,658.9 632.2,659.3" fill="#a50026"/>
<polygon points="670.1,679.1 675.1,679.5 674.7,681.1 670.3,680.7" fill="#a50026"/>
<polygon points="673.5,689.8 676,690.2 675.5,692.5 673.5,692.1" fill="#a50026"/>
<polyline points="661,660.5 667.4,674.3 673.5,679.1" fill="none" stroke="#ececec" stroke-width="3" stroke-linecap="round" stroke-linejoin="round"/>
<polyline points="675.1,689.8 685.3,692.9 693.4,697.9" fill="none" stroke="#ececec" stroke-width="3" stroke-linecap="round" stroke-linejoin="round"/>
<polyline points="595.2,650.4 602.3,652 620.5,652.8 640.7,651.6 649.8,652.4 654.9,662.5 661,674.7 669.1,680.7 685.3,682.8 695.4,688.8 699.4,701 699.4,721.2 699,741.5 700.4,759.7 705.5,768.8 717.7,773.8 724.7,778.9" fill="none" stroke="#abd9e9" stroke-width="7" stroke-linecap="butt" stroke-linejoin="round"/>
<polyline points="660.6,668.2 663.4,675.7" fill="none" stroke="#ffffff" stroke-width="1.5" stroke-linecap="butt" stroke-linejoin="round"/>
<polyline points="693.4,701 694.4,721.2 695.4,741.5" fill="none" stroke="#ececec" stroke-width="3" stroke-linecap="round" stroke-linejoin="round"/>
<polyline points="682.2,687.8 682.8,691.9" fill="none" stroke="#fdae61" stroke-width="1.5" stroke-linecap="butt" stroke-linejoin="round"/>
<polygon points="693.4,724.9 695.4,725.3 695,727.3 693.4,726.9" fill="#fdae61"/>
<polygon points="265.5,192 270,192.5 270.5,195 266.5,195" fill="#d73027"/>
<polygon points="345.5,184.5 351.2,183 351.8,186.5 346.5,188" fill="#d73027"/>
<polygon points="283.8,232 287,233 288,237 284,236" fill="#d73027"/>
<polygon points="275.8,222 278.8,222 278.8,225 275.8,225" fill="#f46d43"/>
<polygon points="303.8,217 308,217.5 309,219.5 304.5,219.2" fill="#fdae61"/>
<polygon points="287.5,242.5 293,241.5 297,245 295,246 291.5,244 288,245" fill="#fdae61"/>
<polygon points="261,231 264.5,230 265,232.5 261.5,233.5" fill="#fee090"/>
<polygon points="540,650 555,653.8 570,653 571.2,656.2 555,657 540,653" fill="#fdae61"/>
<polyline points="545,645 546.2,650.5" fill="none" stroke="#fee090" stroke-width="1.6" stroke-linecap="butt" stroke-linejoin="round"/>
<polyline points="552.5,645.5 553.5,650.5" fill="none" stroke="#fee090" stroke-width="1.6" stroke-linecap="butt" stroke-linejoin="round"/>
<polyline points="560,646.2 561,651.8" fill="none" stroke="#fee090" stroke-width="1.6" stroke-linecap="butt" stroke-linejoin="round"/>
<polyline points="566.2,647.5 567,653" fill="none" stroke="#fdae61" stroke-width="1.6" stroke-linecap="butt" stroke-linejoin="round"/>
<polyline points="572.5,650 573,655" fill="none" stroke="#fdae61" stroke-width="1.6" stroke-linecap="butt" stroke-linejoin="round"/>
<polyline points="450,705 448,712.5" fill="none" stroke="#fdae61" stroke-width="1.6" stroke-linecap="butt" stroke-linejoin="round"/>
<polyline points="455,710 453.5,717.5" fill="none" stroke="#fee090" stroke-width="1.6" stroke-linecap="butt" stroke-linejoin="round"/>
<polyline points="462.5,712.5 463.5,720" fill="none" stroke="#fee090" stroke-width="1.6" stroke-linecap="butt" stroke-linejoin="round"/>
<polyline points="467.5,717.5 468.8,725" fill="none" stroke="#fdae61" stroke-width="1.6" stroke-linecap="butt" stroke-linejoin="round"/>
<polyline points="481.2,727.5 482.2,735" fill="none" stroke="#fdae61" stroke-width="1.6" stroke-linecap="butt" stroke-linejoin="round"/>
<polyline points="490,735 495,738" fill="none" stroke="#fee090" stroke-width="1.6" stroke-linecap="butt" stroke-linejoin="round"/>
<polyline points="497.5,738.8 503.8,740.8" fill="none" stroke="#fee090" stroke-width="1.6" stroke-linecap="butt" stroke-linejoin="round"/>
<polyline points="503.8,741.2 507.5,743.8" fill="none" stroke="#fdae61" stroke-width="1.6" stroke-linecap="butt" stroke-linejoin="round"/>
<polyline points="527.5,736.2 532.5,741.2" fill="none" stroke="#fee090" stroke-width="1.6" stroke-linecap="butt" stroke-linejoin="round"/>
<polyline points="535,735 537.5,741.2" fill="none" stroke="#fee090" stroke-width="1.6" stroke-linecap="butt" stroke-linejoin="round"/>
<polyline points="545,730 546.2,737.5" fill="none" stroke="#fee090" stroke-width="1.6" stroke-linecap="butt" stroke-linejoin="round"/>
<polyline points="552.5,727.5 555,733.8" fill="none" stroke="#fee090" stroke-width="1.6" stroke-linecap="butt" stroke-linejoin="round"/>
<polyline points="555,717.5 558,720" fill="none" stroke="#fee090" stroke-width="1.6" stroke-linecap="butt" stroke-linejoin="round"/>
<polyline points="558.8,700 561.2,703.8" fill="none" stroke="#fee090" stroke-width="1.6" stroke-linecap="butt" stroke-linejoin="round"/>
<polyline points="560,710 563,711.2" fill="none" stroke="#fdae61" stroke-width="1.6" stroke-linecap="butt" stroke-linejoin="round"/>
<polyline points="530,756.2 533.8,758.2" fill="none" stroke="#fdae61" stroke-width="1.6" stroke-linecap="butt" stroke-linejoin="round"/>
<polyline points="520,760 521.2,763" fill="none" stroke="#d73027" stroke-width="1.6" stroke-linecap="butt" stroke-linejoin="round"/>
<polyline points="562.5,672.5 564.5,675" fill="none" stroke="#fdae61" stroke-width="1.6" stroke-linecap="butt" stroke-linejoin="round"/>
<polyline points="556.2,685 558.8,688" fill="none" stroke="#fee090" stroke-width="1.6" stroke-linecap="butt" stroke-linejoin="round"/>
<polyline points="500,717.5 506.2,714.5" fill="none" stroke="#e0f3f8" stroke-width="1.6" stroke-linecap="butt" stroke-linejoin="round"/>
<polyline points="497.5,727.5 505,726.2" fill="none" stroke="#e0f3f8" stroke-width="1.6" stroke-linecap="butt" stroke-linejoin="round"/>
<polyline points="532.5,720 538.8,718" fill="none" stroke="#e0f3f8" stroke-width="1.6" stroke-linecap="butt" stroke-linejoin="round"/>
<polyline points="540,725 541.2,732.5" fill="none" stroke="#e0f3f8" stroke-width="1.6" stroke-linecap="butt" stroke-linejoin="round"/>
<polyline points="473.8,725 472.5,731.2" fill="none" stroke="#e0f3f8" stroke-width="1.6" stroke-linecap="butt" stroke-linejoin="round"/>
<polyline points="485,730 484.2,735" fill="none" stroke="#e0f3f8" stroke-width="1.6" stroke-linecap="butt" stroke-linejoin="round"/>
<polyline points="551.2,720 556.2,721.2" fill="none" stroke="#e0f3f8" stroke-width="1.6" stroke-linecap="butt" stroke-linejoin="round"/>
<polyline points="555,702.5 557,707.5" fill="none" stroke="#e0f3f8" stroke-width="1.6" stroke-linecap="butt" stroke-linejoin="round"/>
<polygon points="546.2,762 550,761.2 550.5,766.2 547,767" fill="#a50026"/>
<polygon points="384.5,666.2 389.5,665.5 389,671.2 385.5,670.8" fill="#a50026"/>
<polygon points="444.5,678 447,678 446.5,681.5 444.5,681" fill="#a50026"/>
<polygon points="570,680 573.8,680.5 573,683 570,682.5" fill="#a50026"/>
<polyline points="253.8,356.2 235,357 220,360 213,366.2 220,373.8 227,380.5" fill="none" stroke="#4575b4" stroke-width="5.5" stroke-linecap="round" stroke-linejoin="round"/>
<polygon points="67.5,415 75,412.5 77.5,420 70,423.8" fill="#969696"/>
<polygon points="83.8,402.5 90,400 91.2,408.8 85,410" fill="#969696"/>
<polygon points="100,445 110,442.5 112.5,450 102.5,452.5" fill="#969696"/>
<polygon points="122.5,445 132.5,443.8 131.2,450 123.8,451.2" fill="#969696"/>
<polygon points="75,430 83.8,427.5 85,433 77.5,435" fill="#969696"/>
</g>
<g id="labels">
<text x="62.0" y="22" class="sm">25</text>
<text x="62.3" y="41.7" class="bg">40</text>
<text x="63.0" y="47.6" class="ty">000</text>
<text x="62.0" y="801.5" class="sm">25</text>
<text x="62.3" y="821.2" class="bg">40</text>
<text x="63.0" y="827.1" class="ty">000</text>
<text x="181.83333333333331" y="22" class="sm">25</text>
<text x="182.13333333333333" y="41.7" class="bg">50</text>
<text x="182.83333333333331" y="47.6" class="ty">000</text>
<text x="181.83333333333331" y="801.5" class="sm">25</text>
<text x="182.13333333333333" y="821.2" class="bg">50</text>
<text x="182.83333333333331" y="827.1" class="ty">000</text>
<text x="301.66666666666663" y="22" class="sm">25</text>
<text x="301.96666666666664" y="41.7" class="bg">60</text>
<text x="302.66666666666663" y="47.6" class="ty">000</text>
<text x="301.66666666666663" y="801.5" class="sm">25</text>
<text x="301.96666666666664" y="821.2" class="bg">60</text>
<text x="302.66666666666663" y="827.1" class="ty">000</text>
<text x="421.5" y="22" class="sm">25</text>
<text x="421.8" y="41.7" class="bg">70</text>
<text x="422.5" y="47.6" class="ty">000</text>
<text x="421.5" y="801.5" class="sm">25</text>
<text x="421.8" y="821.2" class="bg">70</text>
<text x="422.5" y="827.1" class="ty">000</text>
<text x="541.3333333333333" y="22" class="sm">25</text>
<text x="541.6333333333332" y="41.7" class="bg">80</text>
<text x="542.3333333333333" y="47.6" class="ty">000</text>
<text x="541.3333333333333" y="801.5" class="sm">25</text>
<text x="541.6333333333332" y="821.2" class="bg">80</text>
<text x="542.3333333333333" y="827.1" class="ty">000</text>
<text x="661.1666666666666" y="22" class="sm">25</text>
<text x="661.4666666666666" y="41.7" class="bg">90</text>
<text x="662.1666666666666" y="47.6" class="ty">000</text>
<text x="661.1666666666666" y="801.5" class="sm">25</text>
<text x="661.4666666666666" y="821.2" class="bg">90</text>
<text x="662.1666666666666" y="827.1" class="ty">000</text>
<text x="781.0" y="22" class="sm">26</text>
<text x="781.3" y="41.7" class="bg">00</text>
<text x="782.0" y="47.6" class="ty">000</text>
<text x="781.0" y="801.5" class="sm">26</text>
<text x="781.3" y="821.2" class="bg">00</text>
<text x="782.0" y="827.1" class="ty">000</text>
<text x="900.8333333333334" y="22" class="sm">26</text>
<text x="901.1333333333333" y="41.7" class="bg">10</text>
<text x="901.8333333333334" y="47.6" class="ty">000</text>
<text x="900.8333333333334" y="801.5" class="sm">26</text>
<text x="901.1333333333333" y="821.2" class="bg">10</text>
<text x="901.8333333333334" y="827.1" class="ty">000</text>
<text x="1020.6666666666666" y="22" class="sm">26</text>
<text x="1020.9666666666666" y="41.7" class="bg">20</text>
<text x="1021.6666666666666" y="47.6" class="ty">000</text>
<text x="1020.6666666666666" y="801.5" class="sm">26</text>
<text x="1020.9666666666666" y="821.2" class="bg">20</text>
<text x="1021.6666666666666" y="827.1" class="ty">000</text>
<text x="1140.5" y="22" class="sm">26</text>
<text x="1140.8" y="41.7" class="bg">30</text>
<text x="1141.5" y="47.6" class="ty">000</text>
<text x="1140.5" y="801.5" class="sm">26</text>
<text x="1140.8" y="821.2" class="bg">30</text>
<text x="1141.5" y="827.1" class="ty">000</text>
<text x="13.6" y="34" class="sm">59</text>
<text x="13.8" y="53.2" class="bg">60</text>
<text x="15.2" y="59.4" class="ty">000</text>
<text x="1152.1" y="34" class="sm">59</text>
<text x="1152.3" y="53.2" class="bg">60</text>
<text x="1153.7" y="59.4" class="ty">000</text>
<text x="13.6" y="154" class="sm">59</text>
<text x="13.8" y="173.2" class="bg">50</text>
<text x="15.2" y="179.4" class="ty">000</text>
<text x="1152.1" y="154" class="sm">59</text>
<text x="1152.3" y="173.2" class="bg">50</text>
<text x="1153.7" y="179.4" class="ty">000</text>
<text x="13.6" y="274" class="sm">59</text>
<text x="13.8" y="293.2" class="bg">40</text>
<text x="15.2" y="299.4" class="ty">000</text>
<text x="1152.1" y="274" class="sm">59</text>
<text x="1152.3" y="293.2" class="bg">40</text>
<text x="1153.7" y="299.4" class="ty">000</text>
<text x="13.6" y="394" class="sm">59</text>
<text x="13.8" y="413.2" class="bg">30</text>
<text x="15.2" y="419.4" class="ty">000</text>
<text x="1152.1" y="394" class="sm">59</text>
<text x="1152.3" y="413.2" class="bg">30</text>
<text x="1153.7" y="419.4" class="ty">000</text>
<text x="13.6" y="514" class="sm">59</text>
<text x="13.8" y="533.2" class="bg">20</text>
<text x="15.2" y="539.4" class="ty">000</text>
<text x="1152.1" y="514" class="sm">59</text>
<text x="1152.3" y="533.2" class="bg">20</text>
<text x="1153.7" y="539.4" class="ty">000</text>
<text x="13.6" y="634" class="sm">59</text>
<text x="13.8" y="653.2" class="bg">10</text>
<text x="15.2" y="659.4" class="ty">000</text>
<text x="1152.1" y="634" class="sm">59</text>
<text x="1152.3" y="653.2" class="bg">10</text>
<text x="1153.7" y="659.4" class="ty">000</text>
<text x="13.6" y="754" class="sm">59</text>
<text x="13.8" y="773.2" class="bg">00</text>
<text x="15.2" y="779.4" class="ty">000</text>
<text x="1152.1" y="754" class="sm">59</text>
<text x="1152.3" y="773.2" class="bg">00</text>
<text x="1153.7" y="779.4" class="ty">000</text>
</g>
<g id="colorbars">
<path d="M790.5 171.5L815.5 146L840.5 171.5Z" fill="#3a0006" stroke="#2a2a2a" stroke-width="0.8"/>
<rect x="790.5" y="171.5" width="50.0" height="50" fill="#a50026" stroke="#2a2a2a" stroke-width="0.8"/>
<rect x="790.5" y="221.5" width="50.0" height="50" fill="#d73027" stroke="#2a2a2a" stroke-width="0.8"/>
<rect x="790.5" y="271.5" width="50.0" height="50" fill="#f46d43" stroke="#2a2a2a" stroke-width="0.8"/>
<rect x="790.5" y="321.5" width="50.0" height="50" fill="#fdae61" stroke="#2a2a2a" stroke-width="0.8"/>
<rect x="790.5" y="371.5" width="50.0" height="50" fill="#fee090" stroke="#2a2a2a" stroke-width="0.8"/>
<rect x="790.5" y="421.5" width="50.0" height="50" fill="#e0f3f8" stroke="#2a2a2a" stroke-width="0.8"/>
<rect x="790.5" y="471.5" width="50.0" height="50" fill="#abd9e9" stroke="#2a2a2a" stroke-width="0.8"/>
<rect x="790.5" y="521.5" width="50.0" height="50" fill="#74add1" stroke="#2a2a2a" stroke-width="0.8"/>
<rect x="790.5" y="571.5" width="50.0" height="50" fill="#4575b4" stroke="#2a2a2a" stroke-width="0.8"/>
<rect x="790.5" y="621.5" width="50.0" height="50" fill="#313695" stroke="#2a2a2a" stroke-width="0.8"/>
<path d="M790.5 671.5L815.5 696.5L840.5 671.5Z" fill="#00002e" stroke="#2a2a2a" stroke-width="0.8"/>
<text x="858" y="180.5" class="cb">2.</text>
<text x="858" y="230.5" class="cb">1.6</text>
<text x="858" y="280.5" class="cb">1.2</text>
<text x="858" y="330.5" class="cb">0.8</text>
<text x="858" y="380.5" class="cb">0.4</text>
<text x="858" y="430.5" class="cb">0.</text>
<text x="858" y="480.5" class="cb">−0.4</text>
<text x="858" y="530.5" class="cb">−0.8</text>
<text x="858" y="580.5" class="cb">−1.2</text>
<text x="858" y="630.5" class="cb">−1.6</text>
<text x="858" y="680.5" class="cb">−2.</text>
<text transform="translate(768,696) rotate(-90)" class="ttl">Wasserstand [m]</text>
<path d="M1016.5 208.5L1039.5 172L1062.5 208.5Z" fill="#000" stroke="#2a2a2a" stroke-width="0.8"/>
<rect x="1016.5" y="208.5" width="46.0" height="75" fill="#252525" stroke="#2a2a2a" stroke-width="0.8"/>
<rect x="1016.5" y="283.5" width="46.0" height="75" fill="#636363" stroke="#2a2a2a" stroke-width="0.8"/>
<rect x="1016.5" y="358.5" width="46.0" height="75" fill="#969696" stroke="#2a2a2a" stroke-width="0.8"/>
<rect x="1016.5" y="433.5" width="46.0" height="75" fill="#bdbdbd" stroke="#2a2a2a" stroke-width="0.8"/>
<rect x="1016.5" y="508.5" width="46.0" height="75" fill="#d9d9d9" stroke="#2a2a2a" stroke-width="0.8"/>
<rect x="1016.5" y="583.5" width="46.0" height="75" fill="#f7f7f7" stroke="#2a2a2a" stroke-width="0.8"/>
<path d="M1016.5 658.5L1039.5 695L1062.5 658.5Z" fill="#fff" stroke="#2a2a2a" stroke-width="0.8"/>
<text x="1080" y="217.5" class="cb">3.</text>
<text x="1080" y="292.5" class="cb">2.</text>
<text x="1080" y="367.5" class="cb">1.</text>
<text x="1080" y="442.5" class="cb">0.</text>
<text x="1080" y="517.5" class="cb">−1.</text>
<text x="1080" y="592.5" class="cb">−2.</text>
<text x="1080" y="667.5" class="cb">−3.</text>
<text transform="translate(995.5,696) rotate(-90)" class="ttl" style="font-size:24.8px">Topographie [m]</text>
</g>
</svg>
</body></html>
